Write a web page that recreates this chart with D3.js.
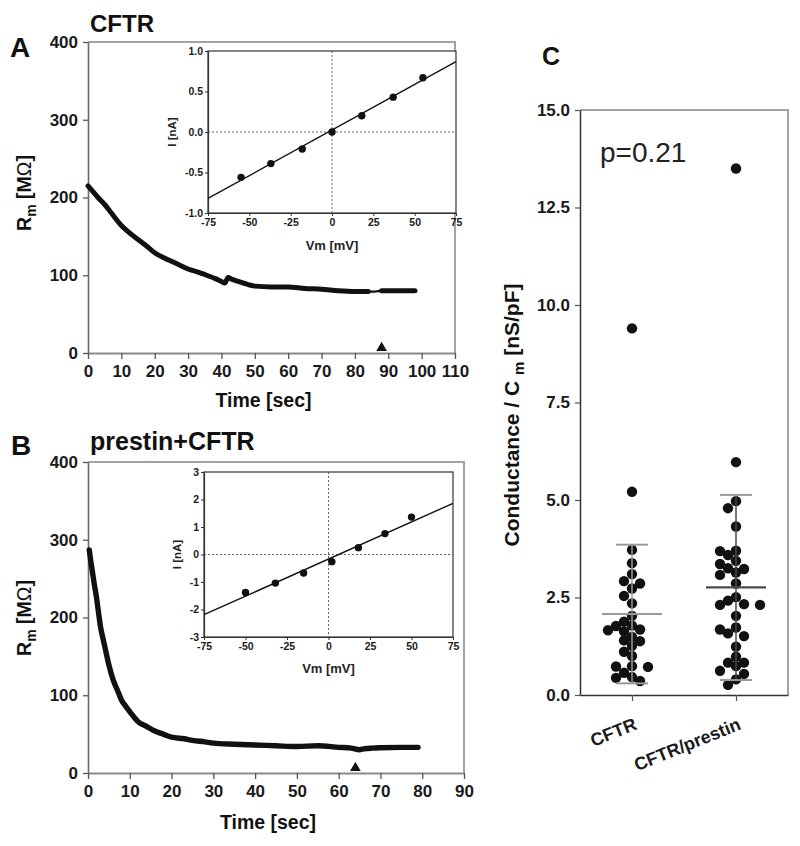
<!DOCTYPE html>
<html><head><meta charset="utf-8">
<script src="https://cdn.jsdelivr.net/npm/d3@7"></script>
<style>body{margin:0;background:#fff}svg{display:block}</style>
</head><body><svg id="c" width="800" height="846"></svg>
<script>
// ---------------- DATA ----------------
const rmTicks = [0, 100, 200, 300, 400];
// Panel A (CFTR)
const timeTicksA = [0, 10, 20, 30, 40, 50, 60, 70, 80, 90, 100, 110];
const traceA_t = [0, 1, 2, 3, 5, 7, 10, 12, 15, 18, 20, 23, 25, 28, 30, 33, 35, 38, 40, 41, 42, 43, 45, 48, 50, 55, 60, 65, 70, 75, 80, 84, 86, 88, 90, 93, 95, 98];
const traceA_R = [215, 210, 205, 200, 191, 180, 164, 156, 146, 136, 129, 122, 118, 112, 108, 104, 101, 96, 92, 90, 97, 95, 92, 88, 86, 85, 85, 83, 82, 80, 79, 79, 79, 80, 80, 80, 80, 80];
const thinA = [85, 88];
const markerA = 88;
const ivA_V = [-55, -37, -18, 0, 18, 37, 55];
const ivA_I = [-0.56, -0.39, -0.21, 0.0, 0.20, 0.43, 0.67];
const fitA_V = [-75, 75];
const fitA_I = [-0.82, 0.87];
const ivTicksV = [-75, -50, -25, 0, 25, 50, 75];
const ivTicksA_I = [-1.0, -0.5, 0.0, 0.5, 1.0];
// Panel B (prestin+CFTR)
const timeTicksB = [0, 10, 20, 30, 40, 50, 60, 70, 80, 90];
const traceB_t = [0.3, 0.6, 1, 1.5, 2, 2.5, 3, 3.5, 4, 5, 6, 7, 8, 9, 10, 12, 14, 16, 18, 20, 23, 25, 28, 30, 35, 40, 45, 50, 55, 60, 63, 65, 66, 68, 70, 75, 79];
const traceB_R = [287, 275, 261, 243, 227, 207, 188, 175, 163, 139, 120, 107, 94, 86, 79, 66, 60, 54, 50, 46, 44, 42, 40, 38.5, 37, 36, 35, 34, 35, 33, 32, 30, 31, 32, 32.5, 33, 33];
const markerB = 64;
const ivB_V = [-50, -32, -15, 2, 18, 34, 50];
const ivB_I = [-1.38, -1.04, -0.67, -0.26, 0.25, 0.76, 1.36];
const fitB_V = [-75, 75];
const fitB_I = [-2.19, 1.86];
const ivTicksB_I = [-3, -2, -1, 0, 1, 2, 3];
// Panel C
const groupsC = ["CFTR", "CFTR/prestin"];
const condCFTR = [9.40, 5.21, 3.72, 3.38, 3.10, 2.92, 2.86, 2.73, 2.54, 2.35, 2.03, 1.88, 1.78, 1.77, 1.68, 1.66, 1.63, 1.49, 1.40, 1.38, 1.26, 1.11, 1.00, 0.74, 0.73, 0.72, 0.57, 0.46, 0.44, 0.36];
const condPrestin = [13.50, 5.97, 4.97, 4.79, 4.32, 3.70, 3.69, 3.59, 3.44, 3.36, 3.25, 3.23, 3.14, 3.08, 2.86, 2.51, 2.42, 2.33, 2.31, 2.31, 2.03, 1.73, 1.68, 1.58, 1.51, 1.24, 0.98, 0.83, 0.83, 0.74, 0.62, 0.54, 0.40, 0.26];
const condTicks = [0, 2.5, 5, 7.5, 10, 12.5, 15];
const pLabel = "p=0.21";

// ---------------- DRAW ----------------
const FONT = '"Liberation Sans", Arial, Helvetica, sans-serif';
const svg = d3.select("#c").attr("font-family", FONT);

function styleAxis(g, o) {
  g.select(".domain").attr("stroke", o.domain).attr("stroke-width", o.dw);
  g.selectAll(".tick line").attr("stroke", o.tick).attr("stroke-width", o.tw);
  g.selectAll(".tick text").attr("fill", "#1a1a1a").attr("font-size", o.fs)
    .attr("font-weight", "bold").attr("font-family", FONT);
}

function mainPanel(p) {
  const x = d3.scaleLinear().domain(p.xDomain).range([p.left, p.right]);
  const y = d3.scaleLinear().domain([0, 400]).range([p.bottom, p.top]);
  svg.append("path").attr("d", `M${p.left},${p.top}H${p.right}V${p.bottom}`)
    .attr("fill", "none").attr("stroke", "#a3a3a3").attr("stroke-width", 2);
  const gx = svg.append("g").attr("transform", `translate(0,${p.bottom})`)
    .call(d3.axisBottom(x).tickValues(p.xTicks).tickSize(6).tickSizeOuter(0).tickPadding(6).tickFormat(d => String(d)));
  styleAxis(gx, {domain: "#8a8a8a", dw: 2, tick: "#555", tw: 1.3, fs: 17});
  const gy = svg.append("g").attr("transform", `translate(${p.left},0)`)
    .call(d3.axisLeft(y).tickValues(rmTicks).tickSize(5).tickSizeOuter(0).tickPadding(5));
  styleAxis(gy, {domain: "#6a6a6a", dw: 1.6, tick: "#555", tw: 1.3, fs: 17});

  // trace
  const pts = p.t.map((t, i) => [t, p.R[i]]);
  const line = d3.line().x(d => x(d[0])).y(d => y(d[1])).curve(d3.curveMonotoneX);
  svg.append("path").attr("d", line(pts)).attr("fill", "none").attr("stroke", "#111").attr("stroke-width", 2.4);
  const segs = [];
  if (p.thin) {
    segs.push(pts.filter(d => d[0] <= p.thin[0]));
    segs.push(pts.filter(d => d[0] >= p.thin[1]));
  } else segs.push(pts);
  segs.forEach(s => svg.append("path").attr("d", line(s)).attr("fill", "none")
    .attr("stroke", "#111").attr("stroke-width", p.sw).attr("stroke-linecap", "round").attr("stroke-linejoin", "round"));
  // marker
  svg.append("path").attr("d", d3.symbol(d3.symbolTriangle, 50)())
    .attr("transform", `translate(${x(p.marker)},${y(0) - 5})`).attr("fill", "#111");

  // labels
  svg.append("text").attr("x", p.left + 2).attr("y", p.titleY).text(p.title)
    .attr("font-size", p.titleFs).attr("font-weight", "bold").attr("fill", "#111");
  svg.append("text").attr("x", p.letterX).attr("y", p.letterY).text(p.letter)
    .attr("font-size", 28).attr("font-weight", "bold").attr("fill", "#111");
  svg.append("text").attr("x", (p.left + p.right) / 2 - 8).attr("y", p.xTitleY).text("Time [sec]")
    .attr("text-anchor", "middle").attr("font-size", 19.5).attr("font-weight", "bold").attr("fill", "#111");
  const yt = svg.append("text").attr("transform", `translate(${p.yTitleX},${p.yTitleY}) rotate(-90)`)
    .attr("text-anchor", "middle").attr("font-size", 19.5).attr("font-weight", "bold").attr("fill", "#111");
  yt.append("tspan").text("R");
  yt.append("tspan").text("m").attr("font-size", 14).attr("dy", 5);
  yt.append("tspan").text(" [M").attr("dy", -5);
  yt.append("tspan").text("Ω").attr("font-weight", "normal");
  yt.append("tspan").text("]");
}

function inset(p) {
  const x = d3.scaleLinear().domain([-75, 75]).range([p.left, p.right]);
  const y = d3.scaleLinear().domain(p.yDomain).range([p.bottom, p.top]);
  svg.append("rect").attr("x", p.left).attr("y", p.top).attr("width", p.right - p.left).attr("height", p.bottom - p.top)
    .attr("fill", "#fff").attr("stroke", "#333").attr("stroke-width", 1.2);
  svg.append("line").attr("x1", x(0)).attr("x2", x(0)).attr("y1", p.top).attr("y2", p.bottom)
    .attr("stroke", "#555").attr("stroke-width", 0.9).attr("stroke-dasharray", "2,2");
  svg.append("line").attr("x1", p.left).attr("x2", p.right).attr("y1", y(0)).attr("y2", y(0))
    .attr("stroke", "#555").attr("stroke-width", 0.9).attr("stroke-dasharray", "2,2");
  const gx = svg.append("g").attr("transform", `translate(0,${p.bottom})`)
    .call(d3.axisBottom(x).tickValues(ivTicksV).tickSize(3).tickSizeOuter(0).tickPadding(3).tickFormat(d => String(d)));
  styleAxis(gx, {domain: "#333", dw: 1.2, tick: "#333", tw: 1, fs: 10.5});
  const gy = svg.append("g").attr("transform", `translate(${p.left},0)`)
    .call(d3.axisLeft(y).tickValues(p.yTicks).tickSize(3).tickSizeOuter(0).tickPadding(2).tickFormat(p.fmt));
  styleAxis(gy, {domain: "#333", dw: 1.2, tick: "#333", tw: 1, fs: 10.5});
  svg.append("line").attr("x1", x(p.fitV[0])).attr("y1", y(p.fitI[0])).attr("x2", x(p.fitV[1])).attr("y2", y(p.fitI[1]))
    .attr("stroke", "#111").attr("stroke-width", 1.4);
  svg.append("g").selectAll("circle").data(p.V).join("circle")
    .attr("cx", d => x(d)).attr("cy", (d, i) => y(p.I[i])).attr("r", 3.7).attr("fill", "#111");
  svg.append("text").attr("x", x(0)).attr("y", p.xTitleY).text("Vm [mV]")
    .attr("text-anchor", "middle").attr("font-size", 13).attr("font-weight", "bold").attr("fill", "#222");
  svg.append("text").attr("transform", `translate(${p.yTitleX},${(p.top + p.bottom) / 2}) rotate(-90)`)
    .attr("dy", "0.35em").text("I [nA]")
    .attr("text-anchor", "middle").attr("font-size", 11.5).attr("font-weight", "bold").attr("fill", "#222");
}

mainPanel({xDomain: [0, 110], xTicks: timeTicksA, left: 88, right: 455, top: 42, bottom: 353,
  t: traceA_t, R: traceA_R, thin: thinA, marker: markerA, sw: 5,
  title: "CFTR", titleFs: 24, titleY: 32, letter: "A", letterX: 10, letterY: 57,
  xTitleY: 407, yTitleX: 31, yTitleY: 193});
inset({left: 208, right: 456, top: 51, bottom: 213, yDomain: [-1, 1], yTicks: ivTicksA_I,
  fmt: d => d.toFixed(1), fitV: fitA_V, fitI: fitA_I, V: ivA_V, I: ivA_I, xTitleY: 250, yTitleX: 172});

mainPanel({xDomain: [0, 90], xTicks: timeTicksB, left: 88, right: 464, top: 462, bottom: 773,
  t: traceB_t, R: traceB_R, thin: null, marker: markerB, sw: 5.4,
  title: "prestin+CFTR", titleFs: 25, titleY: 450, letter: "B", letterX: 11, letterY: 455,
  xTitleY: 829, yTitleX: 31, yTitleY: 618});
inset({left: 204, right: 453, top: 472, bottom: 637, yDomain: [-3, 3], yTicks: ivTicksB_I,
  fmt: d => String(d), fitV: fitB_V, fitI: fitB_I, V: ivB_V, I: ivB_I, xTitleY: 673, yTitleX: 177});

// ---------- Panel C ----------
(function () {
  const L = 580, R = 788, T = 110, B = 695;
  const x = d3.scalePoint().domain(groupsC).range([L, R]).padding(0.5);
  const y = d3.scaleLinear().domain([0, 15]).range([B, T]);
  svg.append("path").attr("d", `M${L},${T}H${R}V${B}`).attr("fill", "none").attr("stroke", "#a3a3a3").attr("stroke-width", 2);
  const gx = svg.append("g").attr("transform", `translate(0,${B})`)
    .call(d3.axisBottom(x).tickSize(6).tickSizeOuter(0).tickFormat(""));
  styleAxis(gx, {domain: "#333", dw: 1.5, tick: "#555", tw: 1.2, fs: 17});
  const gy = svg.append("g").attr("transform", `translate(${L},0)`)
    .call(d3.axisLeft(y).tickValues(condTicks).tickSize(5).tickSizeOuter(0).tickPadding(5).tickFormat(d => d.toFixed(1)));
  styleAxis(gy, {domain: "#333", dw: 1.5, tick: "#555", tw: 1.2, fs: 17});

  groupsC.forEach(g => {
    svg.append("text").attr("transform", `translate(${x(g) + 6},${B + 34}) rotate(-22)`)
      .attr("text-anchor", "end").text(g).attr("font-size", 18).attr("font-weight", "bold").attr("fill", "#1a1a1a");
  });

  const series = [condCFTR, condPrestin];
  const meanCol = ["#9a9a9a", "#4a4a4a"];
  const step = 8, minD = 8.7;
  series.forEach((vals, gi) => {
    const cx = x(groupsC[gi]);
    const placed = [];
    vals.forEach(v => {
      const yy = y(v);
      for (let k = 0; k < 20; k++) {
        const off = k === 0 ? 0 : (k % 2 ? -1 : 1) * Math.ceil(k / 2) * step;
        const xx = cx + off;
        if (placed.every(q => Math.hypot(q.x - xx, q.y - yy) >= minD)) { placed.push({x: xx, y: yy}); break; }
      }
    });
    svg.append("g").selectAll("circle").data(placed).join("circle")
      .attr("cx", d => d.x).attr("cy", d => d.y).attr("r", 5.2).attr("fill", "#111");
    const m = d3.mean(vals), sd = d3.deviation(vals);
    const g = svg.append("g").attr("stroke-linecap", "butt");
    g.append("line").attr("x1", cx).attr("x2", cx).attr("y1", y(m + sd)).attr("y2", y(Math.max(0, m - sd)))
      .attr("stroke", meanCol[gi]).attr("stroke-width", 1.5);
    [m + sd, m - sd].forEach(v => g.append("line").attr("x1", cx - 16).attr("x2", cx + 16).attr("y1", y(v)).attr("y2", y(v))
      .attr("stroke", "#9a9a9a").attr("stroke-width", 2));
    g.append("line").attr("x1", cx - 30).attr("x2", cx + 30).attr("y1", y(m)).attr("y2", y(m))
      .attr("stroke", meanCol[gi]).attr("stroke-width", 2.2);
  });

  svg.append("text").attr("x", 600).attr("y", 162).text(pLabel).attr("font-size", 28).attr("fill", "#222");
  svg.append("text").attr("x", 542).attr("y", 65).text("C").attr("font-size", 25).attr("font-weight", "bold").attr("fill", "#111");
  const yt = svg.append("text").attr("transform", `translate(512,415) rotate(-90)`).attr("dy", "0.35em")
    .attr("text-anchor", "middle").attr("font-size", 21).attr("font-weight", "bold").attr("fill", "#111");
  yt.append("tspan").text("Conductance / C ");
  yt.append("tspan").text("m").attr("font-size", 15).attr("dy", 5);
  yt.append("tspan").text(" [nS/pF]").attr("dy", -5);
})();
</script></body></html>
